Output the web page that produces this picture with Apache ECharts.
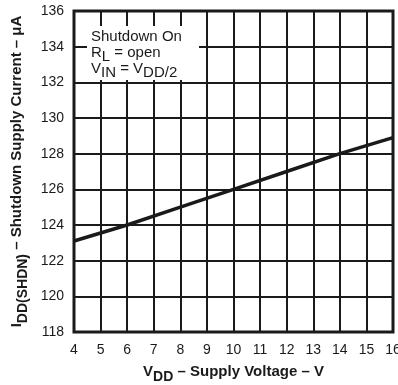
<!DOCTYPE html>
<html>
<head>
<meta charset="utf-8">
<script src="https://cdn.jsdelivr.net/npm/echarts@6/dist/echarts.min.js"></script>
<style>
  html, body { margin: 0; padding: 0; background: #fff; }
  #chart { width: 398px; height: 385px; }
</style>
</head>
<body>
<div id="chart"></div>
<script>
// Supply voltage (V) and shutdown supply current (uA)
const supplyVoltage = [4, 6, 8, 10, 12, 14, 16];
const shutdownCurrent = [123.1, 124.0, 125.0, 126.0, 127.0, 128.0, 128.9];

const xTicks = { min: 4, max: 16, interval: 1 };
const yTicks = { min: 118, max: 136, interval: 2 };

const FONT = 'Liberation Sans, Arial, sans-serif';
const INK = '#1a1a1a';
const chart = echarts.init(document.getElementById('chart'), null, { renderer: 'canvas' });

const seriesData = supplyVoltage.map((v, i) => [v, shutdownCurrent[i]]);

// bold title with a dropped subscript
const titleRich = {
  b: { fontFamily: FONT, fontSize: 15, fontWeight: 'bold', color: INK, verticalAlign: 'top', padding: [0, 0, 5, 0] },
  s: { fontFamily: FONT, fontSize: 14, fontWeight: 'bold', color: INK, verticalAlign: 'bottom', padding: [5, 0, 0, 0] }
};

// plain note text, subscript dropped by a taller bottom-aligned token
const noteRich = {
  n: { fontFamily: FONT, fontSize: 15, fill: INK, lineHeight: 15, verticalAlign: 'top' },
  s: { fontFamily: FONT, fontSize: 15, fill: INK, lineHeight: 19, verticalAlign: 'bottom' }
};
const noteLines = [
  '{n|Shutdown On}',
  '{n|R}{s|L}{n| = open}',
  '{n|V}{s|IN}{n| = V}{s|DD/2}'
];

chart.setOption({
  animation: false,
  backgroundColor: '#fff',
  grid: { left: 74, right: 5, top: 11, bottom: 53, containLabel: false, outerBoundsMode: 'none' },
  xAxis: {
    type: 'value',
    min: xTicks.min, max: xTicks.max, interval: xTicks.interval,
    axisLine: { show: false },
    axisTick: { show: false },
    splitLine: { show: true, lineStyle: { color: INK, width: 2 } },
    axisLabel: { color: INK, fontFamily: FONT, fontSize: 14, margin: 11, hideOverlap: false },
    name: '{b|V}{s|DD}{b| – Supply Voltage – V}',
    nameLocation: 'middle',
    nameGap: 32,
    nameTextStyle: { rich: titleRich }
  },
  yAxis: {
    type: 'value',
    min: yTicks.min, max: yTicks.max, interval: yTicks.interval,
    axisLine: { show: false },
    axisTick: { show: false },
    splitLine: { show: true, lineStyle: { color: INK, width: 2 } },
    axisLabel: { color: INK, fontFamily: FONT, fontSize: 14, margin: 10 },
    name: '{b|I}{s|DD(SHDN)}{b| – Shutdown Supply Current – μA}',
    nameLocation: 'middle',
    nameGap: 44,
    nameTextStyle: { rich: titleRich }
  },
  series: [{
    type: 'line',
    data: seriesData,
    showSymbol: false,
    lineStyle: { color: INK, width: 3.5 },
    silent: true,
    z: 5
  }],
  graphic: [
    // plot frame
    {
      type: 'rect', z: 10,
      shape: { x: 74, y: 11, width: 319, height: 321 },
      style: { fill: 'none', stroke: INK, lineWidth: 3 }
    },
    // condition note with white backing
    {
      type: 'rect', z: 8,
      shape: { x: 87, y: 26, width: 112, height: 54 },
      style: { fill: '#fff' }
    }
  ].concat(noteLines.map((line, i) => ({
    type: 'text', z: 9, left: 91, top: 29 + i * 16,
    style: { text: line, rich: noteRich, fill: INK, font: '15px ' + FONT }
  })))
});
</script>
</body>
</html>
